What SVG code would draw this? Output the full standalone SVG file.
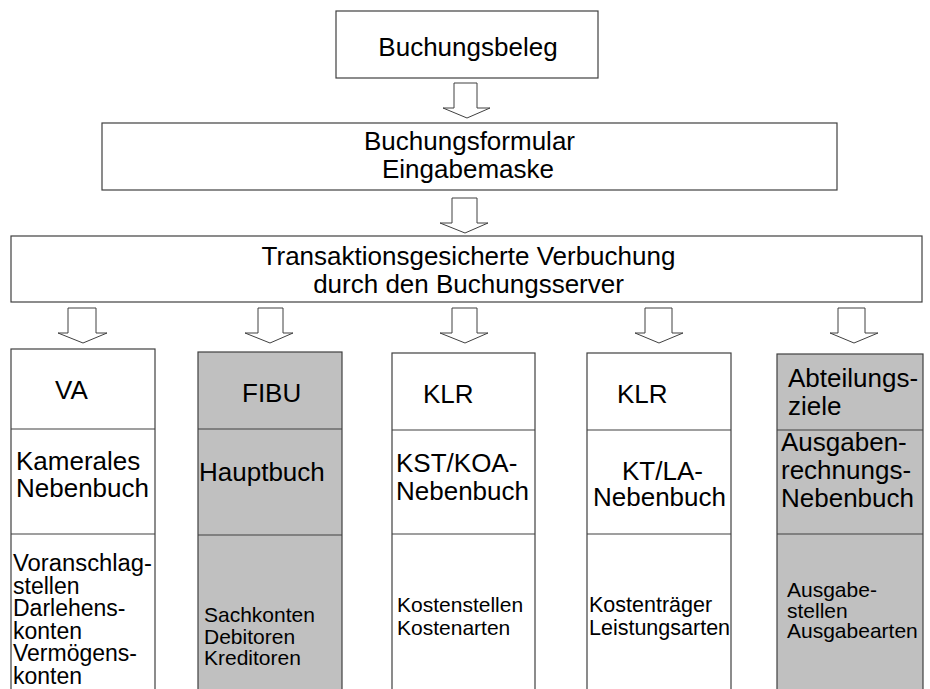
<svg xmlns="http://www.w3.org/2000/svg" width="930" height="689" viewBox="0 0 930 689">
<style>
.box{fill:#fff;stroke:#404040;stroke-width:1.2}
.gray{fill:#c0c0c0;stroke:#404040;stroke-width:1.2}
.div{stroke:#404040;stroke-width:1.2;fill:none}
.arr{fill:#fff;stroke:#404040;stroke-width:1}
text{font-family:"Liberation Sans",Arial,sans-serif;fill:#000}
.big{font-size:26px}
.mid{font-size:23px}
.sm{font-size:21px}
.c{text-anchor:middle}
</style>
<rect width="930" height="689" fill="#fff"/>
<g id="connectors">
<path class="arr" d="M454,83 H477 V108 H490 L467,118 L443,108 H454 Z"/>
<path class="arr" d="M452,198 H477 V223 H488 L465,233 L440,223 H452 Z"/>
<path class="arr" d="M68,308 H96 V333 H107 L83,343 L58,333 H68 Z"/>
<path class="arr" d="M258,308 H283 V333 H293 L270,343 L245,333 H258 Z"/>
<path class="arr" d="M452,308 H477 V333 H488 L465,343 L440,333 H452 Z"/>
<path class="arr" d="M645,308 H672 V333 H683 L659,343 L635,333 H645 Z"/>
<path class="arr" d="M838,308 H865 V333 H878 L854,343 L830,333 H838 Z"/>
</g>
<g id="beleg">
<rect class="box" x="336" y="11" width="262" height="67"/>
<text class="big c" x="468" y="56">Buchungsbeleg</text>
</g>
<g id="formular">
<rect class="box" x="102" y="123" width="735" height="67"/>
<text class="big c" x="469.5" y="150">Buchungsformular</text>
<text class="big c" x="468" y="178">Eingabemaske</text>
</g>
<g id="server">
<rect class="box" x="11" y="236" width="911" height="66"/>
<text class="big c" x="468.5" y="265">Transaktionsgesicherte Verbuchung</text>
<text class="big c" x="468.5" y="293">durch den Buchungsserver</text>
</g>
<g id="va">
<rect class="box" x="11" y="349" width="144" height="345"/>
<line class="div" x1="11" y1="429" x2="155" y2="429"/>
<line class="div" x1="11" y1="534" x2="155" y2="534"/>
<text class="big" x="55" y="399">VA</text>
<text class="big" x="16" y="470">Kamerales</text>
<text class="big" x="16" y="497">Nebenbuch</text>
<text class="mid" x="13" y="571" textLength="139" lengthAdjust="spacingAndGlyphs">Voranschlag-</text>
<text class="mid" x="13" y="593.5">stellen</text>
<text class="mid" x="13" y="616">Darlehens-</text>
<text class="mid" x="13" y="638.5">konten</text>
<text class="mid" x="13" y="661">Vermögens-</text>
<text class="mid" x="13" y="683.5">konten</text>
</g>
<g id="fibu">
<rect class="gray" x="198" y="352" width="144" height="342"/>
<line class="div" x1="198" y1="429" x2="342" y2="429"/>
<line class="div" x1="198" y1="535" x2="342" y2="535"/>
<text class="big" x="242" y="402">FIBU</text>
<text class="big" x="199" y="481">Hauptbuch</text>
<text class="sm" x="204" y="622">Sachkonten</text>
<text class="sm" x="204" y="643.5">Debitoren</text>
<text class="sm" x="204" y="665">Kreditoren</text>
</g>
<g id="klr-kst">
<rect class="box" x="392" y="353" width="143" height="341"/>
<line class="div" x1="392" y1="430" x2="535" y2="430"/>
<line class="div" x1="392" y1="534" x2="535" y2="534"/>
<text class="big" x="423" y="403">KLR</text>
<text class="big" x="396" y="472">KST/KOA-</text>
<text class="big" x="396" y="500">Nebenbuch</text>
<text class="sm" x="397" y="612">Kostenstellen</text>
<text class="sm" x="397" y="635">Kostenarten</text>
</g>
<g id="klr-kt">
<rect class="box" x="587" y="353" width="144" height="341"/>
<line class="div" x1="587" y1="430" x2="731" y2="430"/>
<line class="div" x1="587" y1="534" x2="731" y2="534"/>
<text class="big" x="617" y="403">KLR</text>
<text class="big" x="622" y="480">KT/LA-</text>
<text class="big" x="593" y="506">Nebenbuch</text>
<text class="sm" x="589" y="612" style="font-size:21.5px">Kostenträger</text>
<text class="sm" x="589" y="635" style="font-size:21.5px">Leistungsarten</text>
</g>
<g id="ausgaben">
<rect class="gray" x="777" y="354" width="146" height="340"/>
<line class="div" x1="777" y1="430" x2="923" y2="430"/>
<line class="div" x1="777" y1="534" x2="923" y2="534"/>
<text class="big" x="788" y="387">Abteilungs-</text>
<text class="big" x="788" y="415">ziele</text>
<text class="big" x="781" y="451">Ausgaben-</text>
<text class="big" x="781" y="479">rechnungs-</text>
<text class="big" x="781" y="507">Nebenbuch</text>
<text class="sm" x="787" y="597">Ausgabe-</text>
<text class="sm" x="787" y="617.5">stellen</text>
<text class="sm" x="787" y="638">Ausgabearten</text>
</g>
</svg>
